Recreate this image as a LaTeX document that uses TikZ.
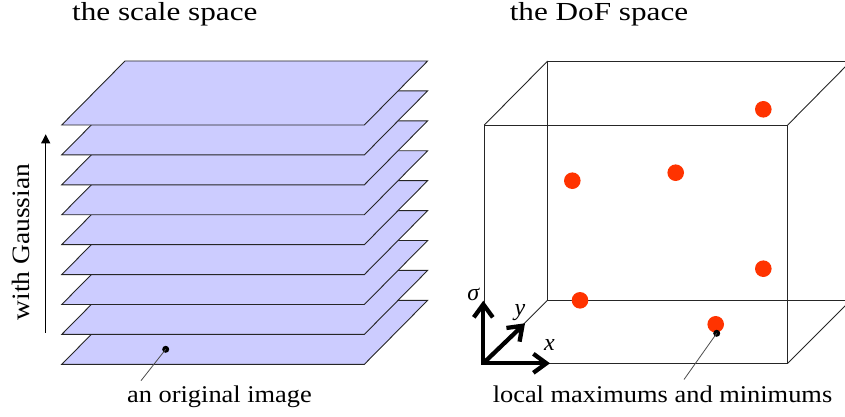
\documentclass[tikz,border=0pt]{standalone}
\usepackage{fontspec}
\setmainfont{Liberation Serif}
\newfontfamily\titlefont[FakeStretch=1.2]{Liberation Serif}
\newfontfamily\labfont[FakeStretch=1.1]{Liberation Serif}
\usetikzlibrary{arrows.meta}
\definecolor{planefill}{RGB}{204,204,255}
\definecolor{extred}{RGB}{255,51,0}
\tikzset{
  plane/.style={fill=planefill, draw=black!85, line width=0.9pt, line join=miter},
  boxline/.style={draw=black!85, line width=0.9pt},
  title/.style={font=\titlefont\fontsize{26}{30}\selectfont, anchor=base, inner sep=0pt},
  lab/.style={font=\labfont\fontsize{24}{28}\selectfont, anchor=base, inner sep=0pt},
  axlab/.style={font=\fontsize{24}{28}\selectfont\itshape, anchor=base, inner sep=0pt},
  extdot/.style={circle, fill=extred, inner sep=0pt, minimum size=16.6pt},
  blackdot/.style={circle, fill=black, inner sep=0pt, minimum size=7pt},
  leader/.style={draw=black!70, line width=0.8pt},
  axis/.style={line width=4.3pt, line join=miter, draw=black},
  barb/.tip={Straight Barb[length=13pt, width=19pt]}
}
\begin{document}
\begin{tikzpicture}[x=1pt, y=-1pt]
\useasboundingbox (0,0) rectangle (845,417);
\clip (0,0) rectangle (845,417);
% titles
\node[title] (t1) at (164.8,21) {the scale space};
\node[title] (t2) at (599,21) {the DoF space};
% stack of planes
\foreach \k in {8,7,...,0} {
  \pgfmathsetmacro\F{125+29.92*\k}
  \draw[plane] (61.7,\F) -- (364.3,\F) -- (427.6,\F-64) -- (125,\F-64) -- cycle;
}
% Gaussian arrow
\coordinate (ga0) at (45.7,332.7);
\coordinate (ga1) at (45.7,134.3);
\draw[line width=1pt, -{Triangle[length=9pt, width=9pt]}] (ga0) -- (ga1);
\node[lab, rotate=90, font=\labfont\fontsize{25}{28}\selectfont] (gl) at (29.3,242) {with Gaussian};
% original image dot and label
\node[blackdot] (od) at (165.7,349.3) {};
\node[lab] (ol) at (219.5,402.7) {an original image};
\coordinate (olend) at (141,380.7);
\draw[leader] (od.center) -- (olend);
% DoF box
\coordinate (f1) at (484.3,125);
\coordinate (f2) at (787.7,125);
\coordinate (f3) at (787.7,363.3);
\coordinate (f4) at (484.3,363.3);
\coordinate (b1) at (547.7,61);
\coordinate (b2) at (851,61);
\coordinate (b3) at (851,300);
\coordinate (b4) at (547.7,300);
\draw[boxline] (f1) -- (f2) -- (f3) -- (f4) -- cycle;
\draw[boxline] (b2) -- (b1) -- (b4) -- (b3);
\draw[boxline] (f1) -- (b1);
\draw[boxline] (f2) -- (b2);
\draw[boxline] (f3) -- (b3);
\draw[boxline] (f4) -- (b4);
% extrema
\node[extdot] (e1) at (763.3,109.3) {};
\node[extdot] (e2) at (572.3,180.7) {};
\node[extdot] (e3) at (675.7,172.7) {};
\node[extdot] (e4) at (763.3,268.7) {};
\node[extdot] (e5) at (580,300.3) {};
\node[extdot] (e6) at (715.7,324.3) {};
\node[blackdot] (ed) at (716.7,333.3) {};
\node[lab] (el) at (662.5,402.5) {local maximums and minimums};
\coordinate (elend) at (684,379.5);
\draw[leader] (ed.center) -- (elend);
% axes
\coordinate (O) at (483.3,363.3);
\coordinate (sig) at (483.3,300.7);
\coordinate (xt) at (550,363.3);
\coordinate (yt) at (525,323.3);
\draw[axis, {barb}-{barb}] (sig) -- (O) -- (xt);
\draw[axis, -{barb}] (O) -- (yt);
\node[axlab] (ls) at (473.3,300.7) {σ};
\node[axlab] (ly) at (520,315) {y};
\node[axlab] (lx) at (549.5,350) {x};
\end{tikzpicture}
\end{document}
